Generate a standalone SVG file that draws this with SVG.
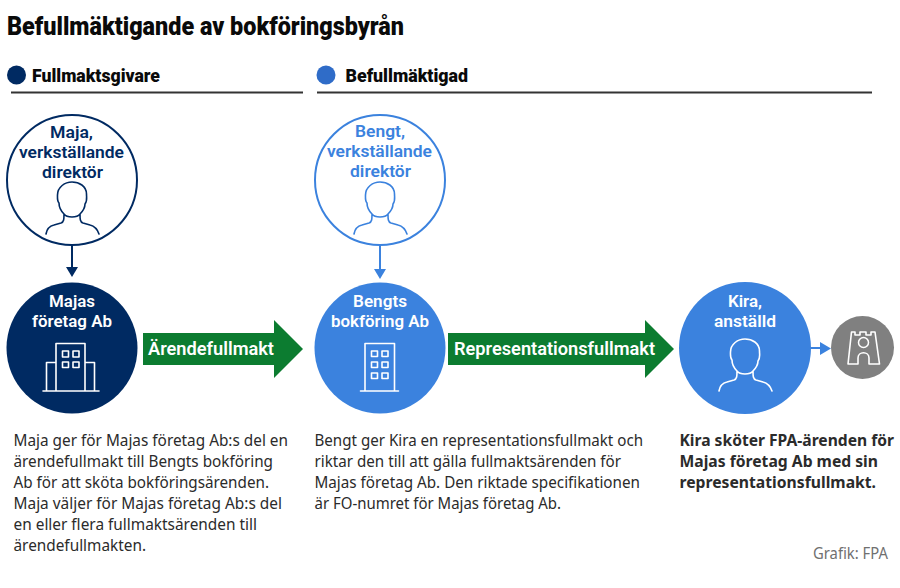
<svg xmlns="http://www.w3.org/2000/svg" width="900" height="588" viewBox="0 0 900 588">
<style>
text{font-family:"Noto Sans","Liberation Sans",sans-serif}
.h{font-family:Roboto,"Liberation Sans",sans-serif;font-weight:900;fill:#0a0a0a}
.l{font-family:Roboto,"Liberation Sans",sans-serif;font-size:17px;font-weight:600}
.b{font-size:15.500px;fill:#2b2b2b}
.kb{font-size:15.500px;font-weight:700;fill:#2b2b2b}
.w{fill:#fff}
.n{fill:#002a62}
.m{fill:#3b82de}
.ln{fill:none;stroke-width:1.600;stroke-linecap:round;stroke-linejoin:round}
</style>
<defs>
<path id="person" d="M46 234C47 228 50 226 54 225L61 223C64 222 64 219 64 214C61 211 59 207 59 203C57 201 57.500 197 57.500 195C57.500 187 65 182 72 182C79 182 86.500 186 86.500 194C86.500 198 87.500 201 85 204C85 208 83 211 80 214C80 219 80 222 83 223L90 225C94 226 97 228 99 234M64 214C67 218 77 218 80 214"/>
</defs>
<rect width="900" height="588" fill="#fff"/>
<text class="h" x="7" y="35" font-size="25" textLength="397" lengthAdjust="spacingAndGlyphs">Befullmäktigande av bokföringsbyrån</text>
<g id="legend-fullmaktsgivare">
<circle cx="16.500" cy="75" r="9.500" fill="#002a62"/>
<text class="h" x="32" y="82" font-size="17.500" textLength="128" lengthAdjust="spacingAndGlyphs">Fullmaktsgivare</text>
<rect x="11" y="91.500" width="292" height="2" fill="#333"/>
</g>
<g id="legend-befullmaktigad">
<circle cx="326" cy="75" r="9.500" fill="#2f6cc8"/>
<text class="h" x="345.500" y="82" font-size="17.500" textLength="122.500" lengthAdjust="spacingAndGlyphs">Befullmäktigad</text>
<rect x="317" y="91.500" width="555" height="2" fill="#333"/>
</g>
<g id="connectors">
<path d="M72 246V268" stroke="#002a62" stroke-width="2" fill="none"/>
<path class="n" d="M66 267H78L72 277Z"/>
<path d="M380 246V269" stroke="#3b82de" stroke-width="2" fill="none"/>
<path class="m" d="M374 269H386L380 279Z"/>
<path d="M811 348H821" stroke="#3b82de" stroke-width="2" fill="none"/>
<path class="m" d="M820 342V355L831 348.500Z"/>
</g>
<g id="arrow-arendefullmakt">
<path fill="#0c7c30" d="M143 333H274V320L303 349L274 378V365H143Z"/>
<text class="l w" x="148" y="355" style="font-size:18px" textLength="126" lengthAdjust="spacingAndGlyphs">Ärendefullmakt</text>
</g>
<g id="arrow-representationsfullmakt">
<path fill="#0c7c30" d="M448 333H645V320L674 349L645 378V365H448Z"/>
<text class="l w" x="454" y="355" style="font-size:18px" textLength="201" lengthAdjust="spacingAndGlyphs">Representationsfullmakt</text>
</g>
<g id="node-maja">
<circle cx="72" cy="180" r="65" fill="#fff" stroke="#002a62" stroke-width="2"/>
<g class="n">
<text class="l" x="50" y="138" textLength="43" lengthAdjust="spacingAndGlyphs">Maja,</text>
<text class="l" x="19" y="158" textLength="105" lengthAdjust="spacingAndGlyphs">verkställande</text>
<text class="l" x="42" y="178" textLength="61" lengthAdjust="spacingAndGlyphs">direktör</text>
</g>
<use href="#person" class="ln" stroke="#002a62"/>
</g>
<g id="node-bengt">
<circle cx="380" cy="180" r="65" fill="#fff" stroke="#3b82de" stroke-width="2"/>
<g class="m">
<text class="l" x="355" y="137" textLength="50" lengthAdjust="spacingAndGlyphs">Bengt,</text>
<text class="l" x="327" y="157" textLength="105" lengthAdjust="spacingAndGlyphs">verkställande</text>
<text class="l" x="350" y="177" textLength="61" lengthAdjust="spacingAndGlyphs">direktör</text>
</g>
<use href="#person" x="308" class="ln" stroke="#3b82de"/>
</g>
<g id="node-majas-foretag">
<circle cx="72" cy="348" r="65.500" fill="#002a62"/>
<text class="l w" x="49" y="307" textLength="46" lengthAdjust="spacingAndGlyphs">Majas</text>
<text class="l w" x="32" y="327" textLength="80" lengthAdjust="spacingAndGlyphs">företag Ab</text>
<path class="ln" stroke="#fff" d="M43 391H99M46.500 391V362.500H56M94.500 391V362.500H85M56 391V343.500H85V391M62.500 351H68.500V357H62.500ZM73 351H79V357H73ZM62.500 362H68.500V367.500H62.500ZM73 362H79V367.500H73Z"/>
</g>
<g id="node-bengts-bokforing">
<circle cx="380" cy="348" r="65.500" fill="#3b82de"/>
<text class="l w" x="353" y="307" textLength="54" lengthAdjust="spacingAndGlyphs">Bengts</text>
<text class="l w" x="331" y="327" textLength="98" lengthAdjust="spacingAndGlyphs">bokföring Ab</text>
<path class="ln" stroke="#fff" d="M360.500 391H398.500M365 391V343.500H394.500V391M371.500 351H377.500V356.500H371.500ZM382 351H388V356.500H382ZM371.500 362H377.500V367.500H371.500ZM382 362H388V367.500H382ZM371.500 373H377.500V378.500H371.500ZM382 373H388V378.500H382Z"/>
</g>
<g id="node-kira">
<circle cx="745" cy="348" r="66" fill="#3b82de"/>
<text class="l w" x="728" y="307" textLength="34" lengthAdjust="spacingAndGlyphs">Kira,</text>
<text class="l w" x="714" y="327" textLength="62" lengthAdjust="spacingAndGlyphs">anställd</text>
<use href="#person" x="673" y="157" class="ln" stroke="#fff"/>
</g>
<g id="node-fpa">
<circle cx="862.500" cy="347.500" r="31.500" fill="#808080"/>
<path class="ln" stroke="#fff" d="M848 364L851.500 332H855V335H860V332H866V335H871V332H875L879.500 364H869V358C869 351 858 351 858 358V364Z"/>
<circle cx="863.500" cy="342.500" r="5" fill="none" stroke="#fff" stroke-width="1.500"/>
</g>
<g id="text-col1">
<text class="b" x="13.500" y="446" textLength="274.500" lengthAdjust="spacingAndGlyphs">Maja ger för Majas företag Ab:s del en</text>
<text class="b" x="13.500" y="467" textLength="259.500" lengthAdjust="spacingAndGlyphs">ärendefullmakt till Bengts bokföring</text>
<text class="b" x="13.500" y="488" textLength="255.500" lengthAdjust="spacingAndGlyphs">Ab för att sköta bokföringsärenden.</text>
<text class="b" x="13.500" y="509" textLength="268.500" lengthAdjust="spacingAndGlyphs">Maja väljer för Majas företag Ab:s del</text>
<text class="b" x="13.500" y="530" textLength="243.500" lengthAdjust="spacingAndGlyphs">en eller flera fullmaktsärenden till</text>
<text class="b" x="13.500" y="551" textLength="132.500" lengthAdjust="spacingAndGlyphs">ärendefullmakten.</text>
</g>
<g id="text-col2">
<text class="b" x="314.500" y="446" textLength="328.500" lengthAdjust="spacingAndGlyphs">Bengt ger Kira en representationsfullmakt och</text>
<text class="b" x="314.500" y="467" textLength="306.500" lengthAdjust="spacingAndGlyphs">riktar den till att gälla fullmaktsärenden för</text>
<text class="b" x="314.500" y="488" textLength="325.500" lengthAdjust="spacingAndGlyphs">Majas företag Ab. Den riktade specifikationen</text>
<text class="b" x="314.500" y="509" textLength="246.500" lengthAdjust="spacingAndGlyphs">är FO-numret för Majas företag Ab.</text>
</g>
<g id="text-col3">
<text class="kb" x="679.500" y="446" textLength="214.500" lengthAdjust="spacingAndGlyphs">Kira sköter FPA-ärenden för</text>
<text class="kb" x="679.500" y="467" textLength="198.500" lengthAdjust="spacingAndGlyphs">Majas företag Ab med sin</text>
<text class="kb" x="679.500" y="488" textLength="196.500" lengthAdjust="spacingAndGlyphs">representationsfullmakt.</text>
</g>
<text x="813" y="559" font-size="15.500" fill="#707070" textLength="75" lengthAdjust="spacingAndGlyphs">Grafik: FPA</text>
</svg>
